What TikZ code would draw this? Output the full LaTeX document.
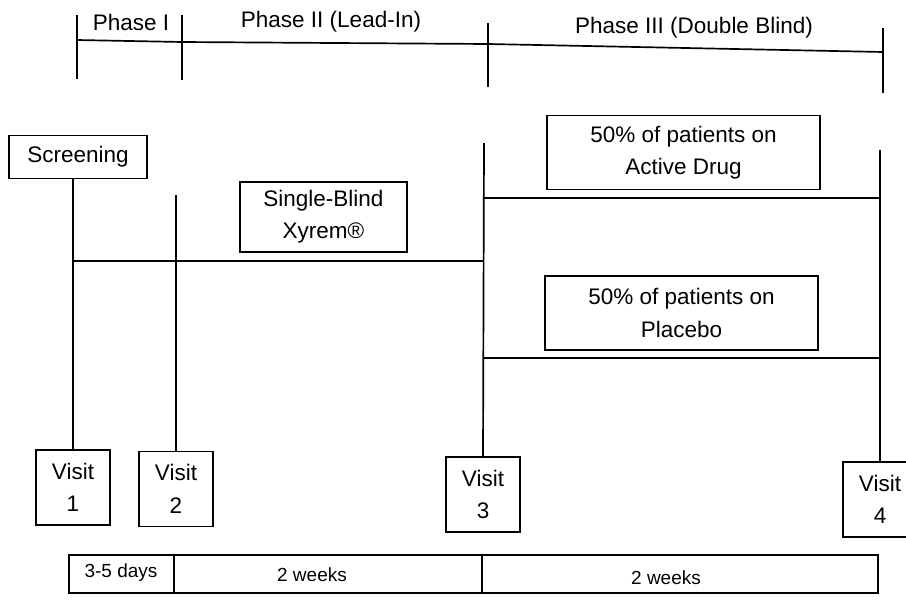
\documentclass[tikz,border=0pt]{standalone}
\usepackage{fontspec}
\setmainfont{Liberation Sans}

\begin{document}
\begin{tikzpicture}[x=0.025cm,y=-0.025cm,line width=1.2pt,
  txt/.style={font=\fontsize{16}{23}\selectfont,align=center,inner sep=0pt},
  smalltxt/.style={font=\fontsize{13.5}{16}\selectfont,inner sep=0pt},
  box/.style={draw,txt,line width=1.2pt},
  visitbox/.style={box,minimum width=1.85cm,minimum height=1.875cm},
  armbox/.style={box,minimum width=6.825cm,minimum height=1.85cm}]
\useasboundingbox (0,0) rectangle (906,599);
% phase ruler
\coordinate (t1) at (77,40);
\coordinate (t2) at (182,42);
\coordinate (t3) at (488,44);
\coordinate (t4) at (883,52);
\draw (t1) -- (t2) -- (t3) -- (t4);
\draw (77,15) -- (77,79);
\draw (182,15) -- (182,80);
\draw (488,23) -- (488,87);
\draw (883,28) -- (883,93);
\node[txt] (ph1) at (131,22) {Phase I};
\node[txt] (ph2) at (331,22) {Phase II (Lead-In)};
\node[txt] (ph3) at (694,28) {Phase III (Double Blind)};
% boxes
\node[box,minimum width=3.45cm,minimum height=1.075cm] (scr) at (78,157) {Screening};
\node[box,minimum width=4.175cm,minimum height=1.75cm] (sb) at (323.5,217) {Single-Blind\\Xyrem®};
\node[armbox] (act) at (683.5,152.5) {50\% of patients on\\Active Drug};
\node[armbox] (plc) at (681.5,313) {50\% of patients on\\Placebo};
\node[visitbox] (v1) at (73,487.5) {Visit\\1};
\node[visitbox] (v2) at (176,489) {Visit\\2};
\node[visitbox] (v3) at (483,494.5) {Visit\\3};
\node[visitbox] (v4) at (880,499.5) {Visit\\4};
% time lines
\coordinate (c2) at (176,195);
\coordinate (c3) at (484,143);
\coordinate (c4) at (880,150);
\draw (scr.south -| v1.north) -- (v1.north);
\draw (c2) -- (v2.north);
\draw (c3) -- (v3.north);
\draw (c4) -- (v4.north);
\draw (v1.north |- 0,261) -- (c3 |- 0,261);
\draw (c3 |- 0,198) -- (c4 |- 0,198);
\draw (c3 |- 0,358) -- (c4 |- 0,358);
% durations
\coordinate (b1) at (69,555);
\coordinate (b2) at (878,593);
\draw (b1) rectangle (b2);
\draw (174,555) -- (174,593);
\draw (482,555) -- (482,593);
\node[smalltxt] (d1) at (121,573) {3-5 days};
\node[smalltxt] (d2) at (312,575) {2 weeks};
\node[smalltxt] (d3) at (666,578) {2 weeks};
\end{tikzpicture}
\end{document}
